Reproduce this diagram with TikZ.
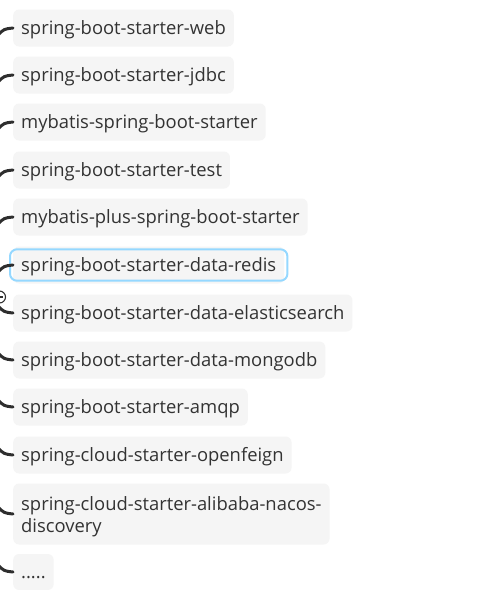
\documentclass[tikz,border=0pt]{standalone}
\usepackage{fontspec}
\setmainfont{Open Sans}
\definecolor{inkgray}{HTML}{333333}
\definecolor{boxfill}{HTML}{F5F5F5}
\definecolor{branch}{HTML}{2E2E2E}
\definecolor{selblue}{HTML}{95D8FF}
\begin{document}
\begin{tikzpicture}[x=1pt,y=-1pt,
  topic/.style={anchor=west, fill=boxfill, rounded corners=6pt, text=inkgray,
    font=\fontsize{18.4}{22}\selectfont, inner xsep=8pt, inner ysep=0pt,
    text height=15pt, text depth=2pt, minimum height=37pt},
  link/.style={draw=branch, line width=3pt, line cap=round}]
\useasboundingbox (0,0) rectangle (494,590);
\fill[white] (0,0) rectangle (494,590);

% topic boxes
\node[topic] (web)   at (13,28)  {spring-boot-starter-web};
\node[topic] (jdbc)  at (13,75)  {spring-boot-starter-jdbc};
\node[topic] (mb)    at (13,122) {mybatis-spring-boot-starter};
\node[topic] (test)  at (13,170) {spring-boot-starter-test};
\node[topic] (mbp)   at (13,217) {mybatis-plus-spring-boot-starter};
\node[topic] (redis) at (13,265) {spring-boot-starter-data-redis};
\node[topic] (es)    at (13,313) {spring-boot-starter-data-elasticsearch};
\node[topic] (mongo) at (13,360) {spring-boot-starter-data-mongodb};
\node[topic] (amqp)  at (13,407) {spring-boot-starter-amqp};
\node[topic] (feign) at (13,455) {spring-cloud-starter-openfeign};
\node[topic, text height=, text depth=, minimum height=61pt] (nacos) at (13,514)
  {\raisebox{-3pt}[\height][\depth]{\vbox{\hbox{spring-cloud-starter-alibaba-nacos-}\hbox{discovery}}}};
\node[topic, minimum height=36pt] (more) at (13,572) {.....};

% selection frame
\draw[selblue, line width=2pt, rounded corners=7pt]
  ([shift={(-3pt,-3pt)}]redis.north west) rectangle ([shift={(3pt,3pt)}]redis.south east);

% branch ends
\foreach \n in {web,jdbc,mb,test,mbp,redis}{
  \coordinate (s-\n) at ([shift={(-15pt,-7pt)}]\n.west);
  \draw[link] (s-\n) .. controls ([shift={(-9pt,-1pt)}]\n.west) .. (\n.west);
}
\foreach \n in {es,mongo,amqp,feign,nacos,more}{
  \coordinate (s-\n) at ([shift={(-15pt,7pt)}]\n.west);
  \draw[link] (s-\n) .. controls ([shift={(-9pt,1pt)}]\n.west) .. (\n.west);
}

% collapse toggle
\node[circle, draw=branch, fill=white, line width=1.1pt, minimum size=12pt, inner sep=0pt] (toggle) at (-0.5,297) {};
\draw[branch, line width=1.1pt] ([xshift=-3pt]toggle.center) -- ([xshift=3pt]toggle.center);
\end{tikzpicture}
\end{document}
